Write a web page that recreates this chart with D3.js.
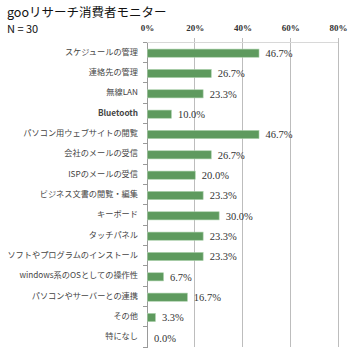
<!DOCTYPE html>
<html><head><meta charset="utf-8">
<script src="https://cdn.jsdelivr.net/npm/d3@7"></script>
<style>body{margin:0;background:#fff}svg{display:block}</style>
</head><body>
<script>
const title = "gooリサーチ消費者モニター";
const subtitle = "N = 30";
const categories = ["スケジュールの管理","連絡先の管理","無線LAN","Bluetooth","パソコン用ウェブサイトの閲覧","会社のメールの受信","ISPのメールの受信","ビジネス文書の閲覧・編集","キーボード","タッチパネル","ソフトやプログラムのインストール","windows系のOSとしての操作性","パソコンやサーバーとの連携","その他","特になし"];
const values = [46.7,26.7,23.3,10.0,46.7,26.7,20.0,23.3,30.0,23.3,23.3,6.7,16.7,3.3,0.0];
const tickValues = [0,20,40,60,80];
const boldLabels = ["Bluetooth"];

const W=358,H=360;
const svg=d3.select("body").append("svg").attr("width",W).attr("height",H);
const x=d3.scaleLinear().domain([0,80]).range([147,338]);
const y=d3.scaleBand().domain(categories).range([42,347]).paddingInner(0.6).paddingOuter(0.3);

svg.append("text").attr("x",7).attr("y",17).attr("font-family","'Noto Sans CJK JP'").attr("font-size",12.5).attr("fill","#111").text(title);
svg.append("text").attr("x",7).attr("y",33).attr("font-family","'Noto Sans CJK JP'").attr("font-size",11).attr("fill","#111").text(subtitle);

// gridlines
svg.append("g").selectAll("line").data(tickValues.slice(1)).join("line")
 .attr("x1",d=>x(d)).attr("x2",d=>x(d)).attr("y1",38).attr("y2",347)
 .attr("stroke","#bdbdbd").attr("stroke-width",1).attr("shape-rendering","crispEdges");
// top axis line
svg.append("line").attr("x1",x(0)).attr("x2",x(80)).attr("y1",42).attr("y2",42).attr("stroke","#d8d8d8").attr("shape-rendering","crispEdges");
// top tick labels
const xa=d3.axisTop(x).tickValues(tickValues).tickFormat(d=>d+"%").tickSize(0).tickPadding(0);
const gx=svg.append("g").attr("transform","translate(0,31)").call(xa);
gx.select(".domain").remove();
gx.selectAll("text").attr("font-family","'Liberation Serif'").attr("font-weight","bold").attr("font-size",9).attr("fill","#333");

// left axis
const ya=d3.axisLeft(y).tickSize(0).tickPadding(9);
const gy=svg.append("g").attr("transform",`translate(${x(0)},0)`).call(ya);
gy.select(".domain").attr("stroke","#9a9a9a").attr("shape-rendering","crispEdges");
gy.selectAll("text").attr("font-family","'Noto Sans CJK JP'").attr("font-size",8.2).attr("fill","#444")
 .attr("font-weight",d=>boldLabels.includes(d)?"bold":"normal");
// band boundary ticks
const step=y.step();
svg.append("g").selectAll("line").data(d3.range(categories.length+1)).join("line")
 .attr("x1",x(0)-4).attr("x2",x(0)).attr("y1",i=>42+i*step).attr("y2",i=>42+i*step)
 .attr("stroke","#9a9a9a").attr("shape-rendering","crispEdges");

// bars
svg.append("g").selectAll("rect").data(categories).join("rect")
 .attr("x",x(0)+0.5).attr("y",(d)=>y(d)+1).attr("height",y.bandwidth())
 .attr("width",(d,i)=>Math.max(0,x(values[i])-x(0)))
 .attr("fill",(d,i)=>values[i]>0?"#5e9a5e":"none").attr("stroke",(d,i)=>values[i]>0?"#a9cfa9":"none").attr("stroke-width",0.6);

// value labels
svg.append("g").selectAll("text").data(categories).join("text")
 .attr("x",(d,i)=>x(values[i])+7).attr("y",d=>y(d)+1+y.bandwidth()/2).attr("dy","0.35em")
 .attr("font-family","'Liberation Serif'").attr("font-size",10.5).attr("fill","#333")
 .text((d,i)=>values[i].toFixed(1)+"%");
</script>
</body></html>
